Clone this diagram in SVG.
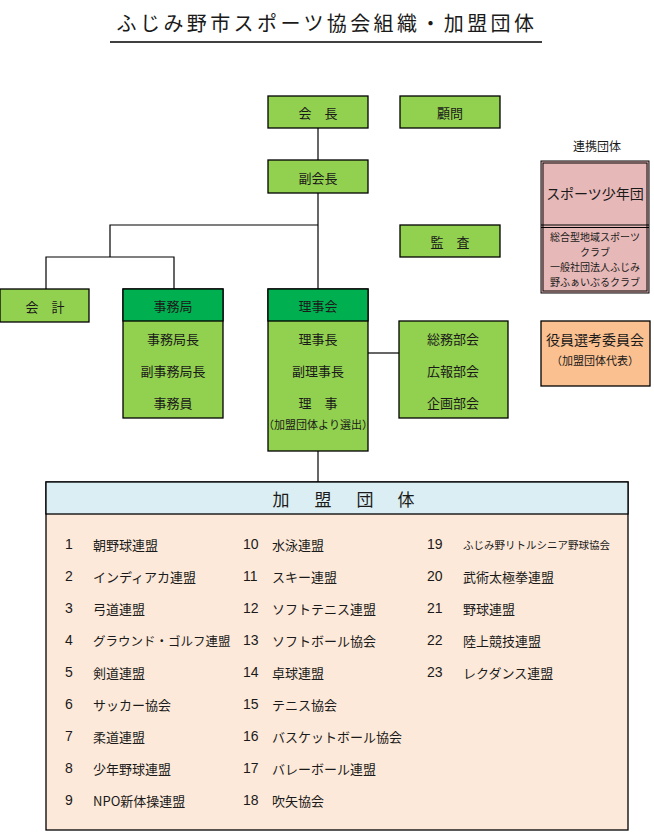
<svg xmlns="http://www.w3.org/2000/svg" width="654" height="833" viewBox="0 0 654 833">
<style>
text{font-family:"Noto Sans CJK JP","Noto Sans",sans-serif;fill:#1a1a1a;}
.c{text-anchor:middle;dominant-baseline:central;}
.b{font-size:13px;}
.s{font-size:10px;}
.g{fill:#92D050;stroke:#000;stroke-width:1.3;}
.dg{fill:#00B050;stroke:#000;stroke-width:1.3;}
.ln{stroke:#000;stroke-width:1.2;fill:none;}
.n{font-family:"Liberation Sans",Arial,sans-serif;font-size:14px;dominant-baseline:central;}
.t{font-size:13px;dominant-baseline:central;}
</style>
<rect width="654" height="833" fill="#fff"/>
<g id="title">
<text x="327" y="22" class="c" style="font-size:20px;letter-spacing:3.4px">ふじみ野市スポーツ協会組織・加盟団体</text>
<line x1="110" y1="42" x2="542" y2="42" stroke="#000" stroke-width="1.3"/>
</g>
<g id="connectors">
<line class="ln" x1="318" y1="128" x2="318" y2="160"/>
<line class="ln" x1="318" y1="193" x2="318" y2="289"/>
<polyline class="ln" points="318,225 110,225 110,257"/>
<polyline class="ln" points="46,289 46,257 174,257 174,289"/>
<line class="ln" x1="368" y1="353" x2="399" y2="353"/>
<line class="ln" x1="318" y1="451" x2="318" y2="482"/>
</g>
<g id="kaicho"><rect class="g" x="268" y="96" width="100" height="32"/><text class="c b" x="318" y="112">会　長</text></g>
<g id="komon"><rect class="g" x="400" y="96" width="100" height="32"/><text class="c b" x="450" y="112">顧問</text></g>
<g id="fukukaicho"><rect class="g" x="268" y="160" width="100" height="33"/><text class="c b" x="318" y="177">副会長</text></g>
<g id="kansa"><rect class="g" x="400" y="225" width="100" height="32"/><text class="c b" x="450" y="241">監　査</text></g>
<g id="kaikei"><rect class="g" x="0" y="289" width="89" height="33"/><text class="c b" x="45" y="306">会　計</text></g>
<g id="jimukyoku">
<rect class="g" x="123" y="289" width="100" height="129"/>
<rect class="dg" x="123" y="289" width="100" height="32"/>
<text class="c b" x="173" y="305">事務局</text>
<text class="c b" x="173" y="338">事務局長</text>
<text class="c b" x="173" y="370">副事務局長</text>
<text class="c b" x="173" y="402">事務員</text>
</g>
<g id="rijikai">
<rect class="g" x="268" y="289" width="100" height="162"/>
<rect class="dg" x="268" y="289" width="100" height="32"/>
<text class="c b" x="318" y="305">理事会</text>
<text class="c b" x="318" y="338">理事長</text>
<text class="c b" x="318" y="370">副理事長</text>
<text class="c b" x="318" y="402">理　事</text>
<text class="c" x="318" y="424" style="font-size:11px">（加盟団体より選出）</text>
</g>
<g id="bukai">
<rect class="g" x="399" y="321" width="109" height="97"/>
<text class="c b" x="453" y="338">総務部会</text>
<text class="c b" x="453" y="370">広報部会</text>
<text class="c b" x="453" y="402">企画部会</text>
</g>
<g id="renkei">
<text class="c" x="597" y="145" style="font-size:12px">連携団体</text>
<rect x="541" y="161" width="108" height="132" fill="#E6B8B7" stroke="#000" stroke-width="1"/>
<rect x="543" y="163" width="104" height="128" fill="none" stroke="#000" stroke-width="1"/>
<line x1="541" y1="225" x2="649" y2="225" stroke="#000" stroke-width="1"/>
<line x1="541" y1="227.5" x2="649" y2="227.5" stroke="#000" stroke-width="1"/>
<text class="c" x="595" y="193" style="font-size:14px">スポーツ少年団</text>
<text class="c s" x="595" y="236.5">総合型地域スポーツ</text>
<text class="c s" x="595" y="251.5">クラブ</text>
<text class="c s" x="595" y="266">一般社団法人ふじみ</text>
<text class="c s" x="595" y="281">野ふぁいぶるクラブ</text>
</g>
<g id="yakuin">
<rect x="541" y="321" width="109" height="65" fill="#FAC090" stroke="#000" stroke-width="1.3"/>
<text class="c" x="595" y="339" style="font-size:14px">役員選考委員会</text>
<text class="c" x="595" y="360" style="font-size:11px">（加盟団体代表）</text>
</g>
<g id="kamei">
<rect x="46" y="482" width="582" height="348" fill="#FDE9D9" stroke="#000" stroke-width="1.3"/>
<rect x="46" y="482" width="582" height="32" fill="#DAEEF3" stroke="#000" stroke-width="1.3"/>
<text class="c" x="281 323 365 406" y="498" style="font-size:17px">加盟団体</text>
<g>
<text class="n" x="65" y="544">1</text><text class="t" x="93" y="544">朝野球連盟</text>
<text class="n" x="65" y="576">2</text><text class="t" x="93" y="576">インディアカ連盟</text>
<text class="n" x="65" y="608">3</text><text class="t" x="93" y="608">弓道連盟</text>
<text class="n" x="65" y="640">4</text><text class="t" x="93" y="640" style="font-size:12.5px">グラウンド・ゴルフ連盟</text>
<text class="n" x="65" y="672">5</text><text class="t" x="93" y="672">剣道連盟</text>
<text class="n" x="65" y="704">6</text><text class="t" x="93" y="704">サッカー協会</text>
<text class="n" x="65" y="736">7</text><text class="t" x="93" y="736">柔道連盟</text>
<text class="n" x="65" y="768">8</text><text class="t" x="93" y="768">少年野球連盟</text>
<text class="n" x="65" y="800">9</text><text class="t" x="93" y="800">NPO新体操連盟</text>
<text class="n" x="243" y="544">10</text><text class="t" x="272" y="544">水泳連盟</text>
<text class="n" x="243" y="576">11</text><text class="t" x="272" y="576">スキー連盟</text>
<text class="n" x="243" y="608">12</text><text class="t" x="272" y="608">ソフトテニス連盟</text>
<text class="n" x="243" y="640">13</text><text class="t" x="272" y="640">ソフトボール協会</text>
<text class="n" x="243" y="672">14</text><text class="t" x="272" y="672">卓球連盟</text>
<text class="n" x="243" y="704">15</text><text class="t" x="272" y="704">テニス協会</text>
<text class="n" x="243" y="736">16</text><text class="t" x="272" y="736">バスケットボール協会</text>
<text class="n" x="243" y="768">17</text><text class="t" x="272" y="768">バレーボール連盟</text>
<text class="n" x="243" y="800">18</text><text class="t" x="272" y="800">吹矢協会</text>
<text class="n" x="427" y="544">19</text><text class="t" x="463" y="544" style="font-size:10.5px">ふじみ野リトルシニア野球協会</text>
<text class="n" x="427" y="576">20</text><text class="t" x="463" y="576">武術太極拳連盟</text>
<text class="n" x="427" y="608">21</text><text class="t" x="463" y="608">野球連盟</text>
<text class="n" x="427" y="640">22</text><text class="t" x="463" y="640">陸上競技連盟</text>
<text class="n" x="427" y="672">23</text><text class="t" x="463" y="672">レクダンス連盟</text>
</g>
</g>
</svg>
